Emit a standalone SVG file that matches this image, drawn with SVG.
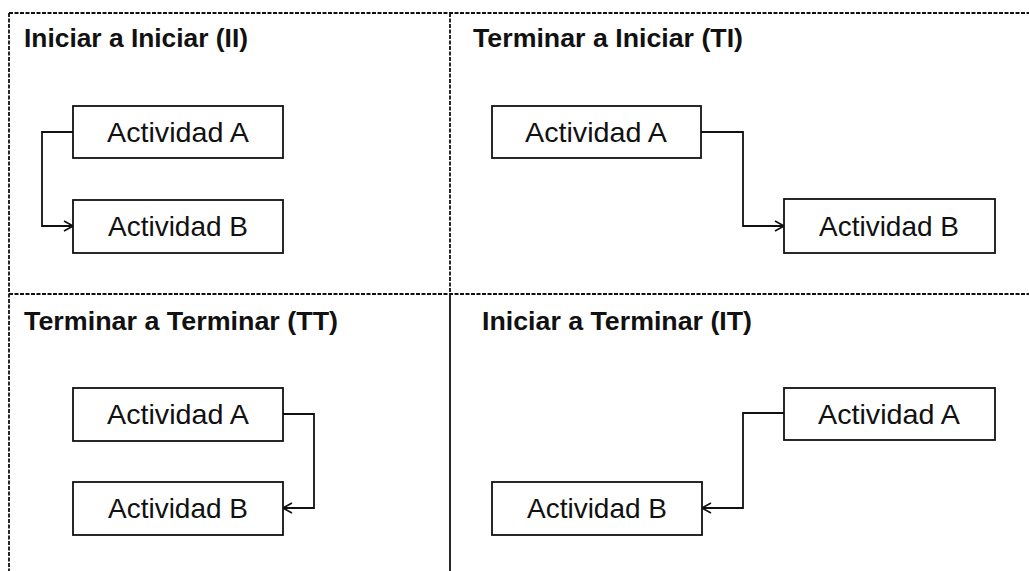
<svg xmlns="http://www.w3.org/2000/svg" width="1029" height="571" viewBox="0 0 1029 571">
  <style>
    .frame { fill: none; stroke: #111; stroke-width: 1.8; }
    .dash { stroke-dasharray: 4 1.5; }
    .title { font-family: "Liberation Sans", Arial, sans-serif; font-weight: bold; font-size: 26.5px; fill: #111; }
    .box rect { fill: #fff; stroke: #111; stroke-width: 1.8; }
    .box text { font-family: "Liberation Sans", Arial, sans-serif; font-size: 28px; fill: #111; text-anchor: middle; }
    .link { fill: none; stroke: #111; stroke-width: 1.8; marker-end: url(#open); }
  </style>
  <defs>
    <marker id="open" viewBox="0 0 10 12" refX="10" refY="6" markerWidth="10" markerHeight="12" markerUnits="userSpaceOnUse" orient="auto">
      <path d="M1,1 L10,6 L1,11" fill="none" stroke="#111" stroke-width="1.6"/>
    </marker>
  </defs>

  <rect width="1029" height="571" fill="#fff"/>

  <!-- quadrant frame -->
  <g id="frame">
    <line class="frame dash" x1="9" y1="13" x2="1029" y2="13"/>
    <line class="frame dash" x1="9" y1="13" x2="9" y2="571"/>
    <line class="frame dash" x1="9" y1="294" x2="1029" y2="294"/>
    <line class="frame dash" x1="450" y1="13" x2="450" y2="294"/>
    <line class="frame" x1="450" y1="294" x2="450" y2="571"/>
  </g>

  <!-- quadrant titles -->
  <g id="titles">
    <text class="title" x="24" y="47" textLength="224" lengthAdjust="spacingAndGlyphs">Iniciar a Iniciar (II)</text>
    <text class="title" x="473" y="47" textLength="270" lengthAdjust="spacingAndGlyphs">Terminar a Iniciar (TI)</text>
    <text class="title" x="24" y="330" textLength="314" lengthAdjust="spacingAndGlyphs">Terminar a Terminar (TT)</text>
    <text class="title" x="482" y="330" textLength="270" lengthAdjust="spacingAndGlyphs">Iniciar a Terminar (IT)</text>
  </g>

  <!-- Iniciar a Iniciar -->
  <g id="ii-a" class="box"><rect x="73" y="106" width="210" height="52"/><text x="178" y="142" textLength="142" lengthAdjust="spacingAndGlyphs">Actividad A</text></g>
  <g id="ii-b" class="box"><rect x="73" y="200" width="210" height="53"/><text x="178" y="236" textLength="140" lengthAdjust="spacingAndGlyphs">Actividad B</text></g>

  <!-- Terminar a Iniciar -->
  <g id="ti-a" class="box"><rect x="492" y="106" width="209" height="52"/><text x="596" y="142" textLength="142" lengthAdjust="spacingAndGlyphs">Actividad A</text></g>
  <g id="ti-b" class="box"><rect x="784" y="199" width="211" height="54"/><text x="889" y="236" textLength="140" lengthAdjust="spacingAndGlyphs">Actividad B</text></g>

  <!-- Terminar a Terminar -->
  <g id="tt-a" class="box"><rect x="73" y="388" width="210" height="53"/><text x="178" y="424" textLength="142" lengthAdjust="spacingAndGlyphs">Actividad A</text></g>
  <g id="tt-b" class="box"><rect x="73" y="482" width="210" height="53"/><text x="178" y="518" textLength="140" lengthAdjust="spacingAndGlyphs">Actividad B</text></g>

  <!-- Iniciar a Terminar -->
  <g id="it-a" class="box"><rect x="784" y="388" width="211" height="52"/><text x="889" y="424" textLength="142" lengthAdjust="spacingAndGlyphs">Actividad A</text></g>
  <g id="it-b" class="box"><rect x="492" y="482" width="210" height="53"/><text x="597" y="518" textLength="140" lengthAdjust="spacingAndGlyphs">Actividad B</text></g>

  <!-- dependency connectors -->
  <g id="connectors">
    <path class="link" d="M73,132 H42 V226 H73"/>
    <path class="link" d="M701,132 H743 V226 H784"/>
    <path class="link" d="M283,414 H314 V508 H283"/>
    <path class="link" d="M784,413 H743 V508 H702"/>
  </g>
</svg>
